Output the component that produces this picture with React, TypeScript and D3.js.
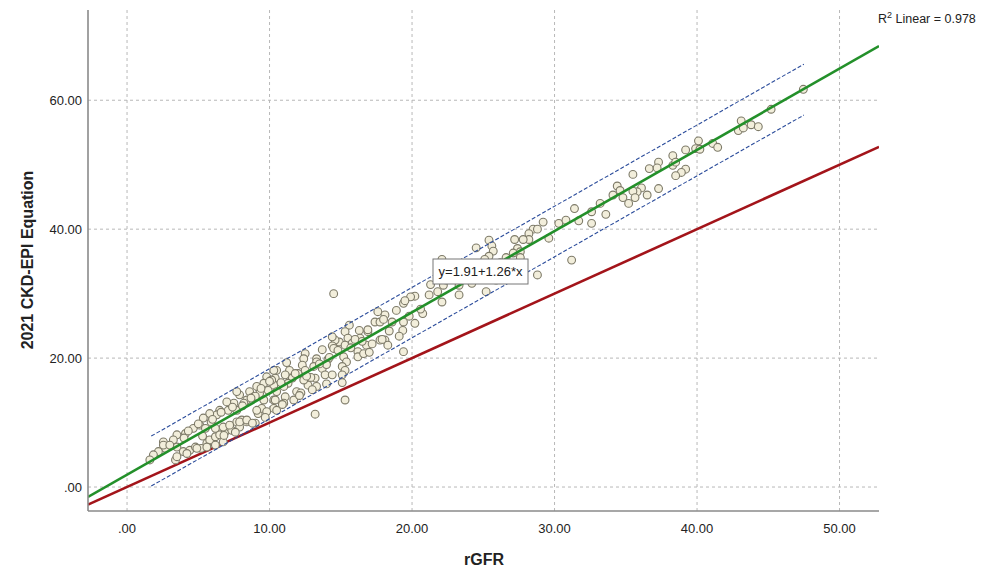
import React from "react";
import * as d3 from "d3";

const rGFR = [
  47.46, 45.2, 43.1, 42.9, 43.25, 43.8, 44.3, 40.1, 39.9, 40.2, 41.1, 41.45, 39.2, 38.3, 37.3, 38.3, 38.5, 36.65, 37.2, 39.2,
  38.9, 38.5, 35.5, 34.4, 34.6, 36.1, 35.8, 35.5, 37.3, 36.5, 34.8, 35.65, 35.2, 34.1, 33.2,
  31.4, 32.6, 31.7, 32.6, 30.3, 31.2, 29.2, 28.5, 28.8, 28.2, 28.2, 27.8, 27.2, 27.4, 27.6, 27.1, 25.4, 25.6, 25.7, 25.4,
  24.5, 25.1, 26.6, 27.6, 26.9, 27.3, 27.8, 28.8, 22.1, 21.3, 22.2, 22.4, 24.2, 23.3, 23.3, 25.2, 25.9, 21.2, 22.1, 20.2,
  19.9, 20.75,
  14.5, 19.4, 18.9, 19.5, 17.6, 18.1, 17.4, 17.75, 19.4, 20.2, 19.35, 19.1, 18.4, 17.75, 18.1, 18.3, 19.4, 15.6, 15.3, 16.3,
  16.9, 16.35, 15.5, 14.9, 14.6, 14.4, 15.3, 15.8, 16.8, 16.2, 16.2, 16.6, 13.7, 14.5, 15.2, 15.4, 15.1, 15.3, 15.1, 15.1,
  15.3, 13.2, 13.3, 13.3, 13.7, 13.1, 12.5, 12.4, 12.3, 12.5, 13.2, 13.9, 14.4, 13.3, 12.7, 12.4, 11.9, 11.2, 11.4, 11.1,
  11.6, 11.3, 11.0, 11.7, 11.1, 10.5, 10.4, 10.3, 10.5, 10.3, 11.0, 10.3, 14.4,
  10.3, 9.8, 10.15, 9.6, 9.9, 9.1, 9.3, 8.6, 8.9, 8.4, 7.9, 7.7, 8.2, 7.5, 7.0, 7.7, 7.1, 6.5, 6.3, 5.8,
  5.35, 5.9, 5.1, 4.65, 5.5, 4.1, 3.5, 3.25, 2.55, 2.7, 2.2, 1.85, 1.6, 3.5, 3.4, 3.95, 4.4, 4.8, 5.2, 5.6,
  5.8, 6.2, 6.5, 6.9, 7.2, 6.75, 6.2, 7.7, 8.05, 8.4, 9.0, 7.9, 9.2, 9.45, 9.8, 10.5, 10.4, 9.6,
  2.55, 3.5, 4.2, 4.9, 5.6, 6.2, 6.75, 7.35, 7.2, 7.9, 8.4, 9.1,
  12.0, 12.9, 14.1, 16.0, 17.0, 18.6, 19.8, 20.6, 21.8, 23.8, 24.8, 26.2, 29.6, 30.8, 33.6, 12.2, 14.0, 16.9, 18.0, 9.0,
  4.3, 5.0, 6.0, 6.6, 7.4, 8.1, 8.7, 9.4, 10.0, 10.8, 11.8, 12.6, 13.5, 14.2, 14.8, 15.7, 16.5, 17.2, 3.0, 4.0,
  5.3, 6.8, 7.6, 8.8, 9.7, 10.9, 12.1, 13.0, 14.0, 17.9,
];

const ckdEpi = [
  61.7, 58.6, 56.8, 55.3, 55.7, 56.2, 55.9, 53.7, 52.5, 52.4, 53.3, 52.7, 52.3, 51.4, 50.4, 49.9, 50.4, 49.4, 49.5, 49.3,
  48.8, 48.3, 48.5, 46.7, 46.0, 46.4, 45.8, 45.9, 46.3, 45.3, 44.9, 44.9, 44.0, 45.3, 44.0,
  43.2, 42.7, 41.3, 40.9, 40.9, 35.2, 41.1, 40.0, 40.0, 39.3, 38.4, 38.4, 38.4, 37.0, 36.5, 36.3, 38.3, 37.4, 36.6, 35.8,
  37.1, 35.3, 35.6, 35.6, 34.4, 34.2, 33.9, 32.9, 35.3, 31.4, 31.3, 32.1, 31.6, 31.3, 29.8, 30.3, 32.1, 29.8, 28.7, 29.6,
  29.5, 26.9,
  30.0, 28.5, 27.4, 28.9, 27.2, 26.7, 25.6, 25.6, 25.6, 25.4, 24.3, 23.4, 24.2, 22.8, 22.8, 22.0, 21.0, 25.1, 24.1, 24.3,
  24.1, 23.1, 23.1, 22.5, 22.8, 21.9, 22.0, 22.3, 22.0, 21.0, 20.2, 20.7, 21.3, 21.5, 20.2, 19.4, 18.7, 18.1, 17.4, 16.2,
  13.5, 11.3, 19.9, 19.4, 18.4, 18.7, 20.7, 19.9, 18.9, 18.1, 16.9, 17.4, 17.4, 15.6, 15.8, 16.6, 14.8, 19.3, 18.1, 17.4,
  16.9, 16.1, 15.6, 13.5, 14.0, 18.1, 16.9, 15.8, 14.8, 13.5, 13.0, 12.2, 23.3,
  18.1, 17.1, 16.6, 16.1, 15.0, 15.6, 14.5, 14.8, 14.0, 13.5, 14.3, 14.8, 13.0, 13.0, 13.2, 11.9, 11.9, 11.9, 11.2, 11.4,
  10.7, 10.1, 9.6, 9.1, 9.1, 8.3, 8.1, 7.3, 7.0, 6.0, 5.5, 5.0, 4.2, 6.2, 4.2, 5.5, 5.7, 6.2, 6.0, 6.8,
  7.3, 7.8, 8.1, 8.6, 9.3, 9.3, 9.1, 10.1, 10.4, 10.1, 9.9, 9.3, 11.4, 12.2, 11.7, 11.9, 13.5, 13.5,
  6.5, 4.7, 5.2, 6.0, 6.2, 6.5, 7.0, 8.8, 9.6, 10.1, 10.4, 11.9,
  17.6, 17.0, 19.8, 22.9, 20.9, 25.6, 26.5, 27.6, 30.3, 32.4, 32.6, 34.8, 38.6, 41.4, 42.3, 14.6, 19.0, 24.4, 26.0, 14.1,
  8.7, 9.8, 10.5, 11.6, 12.4, 12.6, 13.8, 15.3, 16.4, 16.2, 17.6, 17.2, 19.1, 20.1, 21.2, 21.6, 22.6, 22.2, 6.5, 7.6,
  7.9, 8.0, 8.5, 9.9, 10.8, 12.8, 14.2, 15.1, 16.0, 22.9,
];

const xTicks = [0, 10, 20, 30, 40, 50];
const yTicks = [0, 20, 40, 60];
const fitIntercept = 1.91;
const fitSlope = 1.26;
const rSquared = 0.978;
const upperBandX = [1.7, 47.5];
const upperBandY = [7.9, 65.6];
const lowerBandX = [1.7, 47.5];
const lowerBandY = [0.15, 57.7];

const fmt = (v: number) => (v === 0 ? ".00" : v.toFixed(2));

export default function App() {
  const W = 994, H = 569;
  const left = 88, right = 879, top = 10, bottom = 511;
  const x = d3.scaleLinear().domain([-2.74, 52.77]).range([left, right]);
  const y = d3.scaleLinear().domain([-3.72, 74.0]).range([bottom, top]);
  const [x0, x1] = x.domain();
  const line = d3.line<[number, number]>().x((d) => x(d[0])).y((d) => y(d[1]));
  const fitPts: [number, number][] = [x0, x1].map((v) => [v, fitIntercept + fitSlope * v]);
  const idPts: [number, number][] = [x0, x1].map((v) => [v, v]);
  const up: [number, number][] = upperBandX.map((v, i) => [v, upperBandY[i]]);
  const lo: [number, number][] = lowerBandX.map((v, i) => [v, lowerBandY[i]]);
  const font = "Arial, 'Liberation Sans', sans-serif";
  const pts = rGFR.map((v, i) => [v, ckdEpi[i]]);

  return (
    <svg width={W} height={H} style={{ position: "absolute", left: 0, top: 0, background: "#fff" }} fontFamily={font}>
      <defs>
        <clipPath id="plot">
          <rect x={left} y={top} width={right - left} height={bottom - top} />
        </clipPath>
      </defs>
      {xTicks.map((t) => (
        <line key={"gx" + t} x1={x(t)} x2={x(t)} y1={top} y2={bottom} stroke="#b8b8b8" strokeDasharray="3,3" strokeWidth={1} />
      ))}
      {yTicks.map((t) => (
        <line key={"gy" + t} x1={left} x2={right} y1={y(t)} y2={y(t)} stroke="#b8b8b8" strokeDasharray="3,3" strokeWidth={1} />
      ))}
      <g clipPath="url(#plot)">
        <path d={line(idPts) || ""} stroke="#a3141a" strokeWidth={2.6} fill="none" />
        {pts.map((p, i) => (
          <circle key={i} cx={x(p[0])} cy={y(p[1])} r={3.9} fill="#f2eedb" stroke="#7d7a68" strokeWidth={1.1} />
        ))}
        <path d={line(up) || ""} stroke="#2b4c9b" strokeWidth={1.1} strokeDasharray="4,2" fill="none" />
        <path d={line(lo) || ""} stroke="#2b4c9b" strokeWidth={1.1} strokeDasharray="4,2" fill="none" />
        <path d={line(fitPts) || ""} stroke="#23902a" strokeWidth={2.6} fill="none" />
      </g>
      <line x1={left} x2={left} y1={top} y2={bottom} stroke="#8a8a8a" strokeWidth={1.6} />
      <line x1={left} x2={right} y1={bottom} y2={bottom} stroke="#8a8a8a" strokeWidth={1.6} />
      {yTicks.map((t) => (
        <text key={"ty" + t} x={82} y={y(t)} dy="0.35em" textAnchor="end" fontSize={13} fill="#222">
          {fmt(t)}
        </text>
      ))}
      {xTicks.map((t) => (
        <text key={"tx" + t} x={x(t)} y={533} textAnchor="middle" fontSize={13} fill="#222">
          {fmt(t)}
        </text>
      ))}
      <text x={484} y={565} textAnchor="middle" fontSize={16} fontWeight="bold" fill="#222">rGFR</text>
      <text transform={`translate(33,260) rotate(-90)`} textAnchor="middle" fontSize={16} fontWeight="bold" fill="#222">
        2021 CKD-EPI Equation
      </text>
      <text x={878} y={23} fontSize={12.5} fill="#222">
        R<tspan dy={-5} fontSize={9}>2</tspan>
        <tspan dy={5}> Linear = {rSquared.toFixed(3)}</tspan>
      </text>
      <rect x={433} y={259} width={95} height={25} fill="#fff" stroke="#777" strokeWidth={1} />
      <text x={480.5} y={276} textAnchor="middle" fontSize={13} fill="#222">
        y={fitIntercept.toFixed(2)}+{fitSlope.toFixed(2)}*x
      </text>
    </svg>
  );
}
